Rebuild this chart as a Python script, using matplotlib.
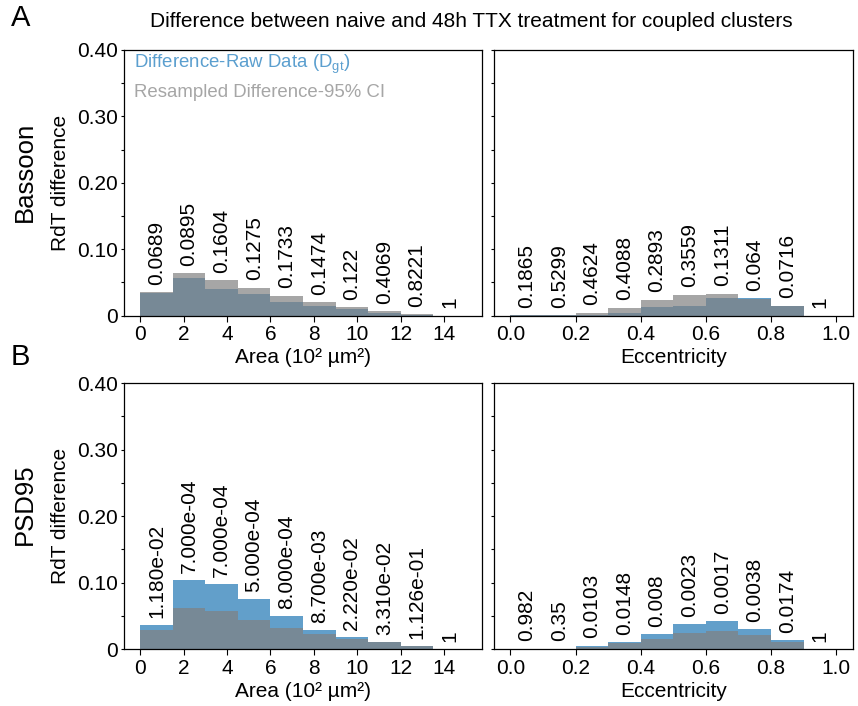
import numpy as np
import matplotlib.pyplot as plt
from matplotlib.patches import Patch

plt.rcParams['font.family'] = ['Liberation Sans', 'DejaVu Sans']
plt.rcParams['mathtext.default'] = 'regular'

# bin edges
area_edges = np.arange(0, 15.01, 1.5)
ecc_edges = np.arange(0, 1.001, 0.1)

# Bassoon - area
bsn_area_raw = [0.034, 0.057, 0.040, 0.033, 0.021, 0.015, 0.010, 0.004, 0.0008, 0.0]
bsn_area_ci = [0.035, 0.064, 0.053, 0.042, 0.030, 0.020, 0.013, 0.0068, 0.0025, 0.0]
bsn_area_p = ["0.0689", "0.0895", "0.1604", "0.1275", "0.1733", "0.1474", "0.122",
              "0.4069", "0.8221", "1"]

# Bassoon - eccentricity
bsn_ecc_raw = [0.0005, 0.0005, 0.001, 0.0045, 0.0135, 0.015, 0.026, 0.0266, 0.015, 0.0]
bsn_ecc_ci = [0.001, 0.001, 0.0045, 0.012, 0.024, 0.0316, 0.033, 0.025, 0.014, 0.0]
bsn_ecc_p = ["0.1865", "0.5299", "0.4624", "0.4088", "0.2893", "0.3559", "0.1311",
             "0.064", "0.0716", "1"]

# PSD95 - area
psd_area_raw = [0.0357, 0.104, 0.098, 0.0754, 0.0492, 0.0281, 0.0175, 0.0100, 0.0040, 0.0]
psd_area_ci = [0.0286, 0.0618, 0.0568, 0.0437, 0.0317, 0.0226, 0.0148, 0.0102, 0.0042, 0.0]
psd_area_p = ["1.180e-02", "7.000e-04", "7.000e-04", "5.000e-04", "8.000e-04", "8.700e-03",
              "2.220e-02", "3.310e-02", "1.126e-01", "1"]

# PSD95 - eccentricity
psd_ecc_raw = [0.0005, 0.0005, 0.005, 0.010, 0.022, 0.037, 0.0416, 0.0296, 0.013, 0.0]
psd_ecc_ci = [0.0004, 0.0004, 0.0035, 0.0085, 0.0155, 0.0236, 0.0266, 0.0206, 0.010, 0.0]
psd_ecc_p = ["0.982", "0.35", "0.0103", "0.0148", "0.008", "0.0023", "0.0017", "0.0038",
             "0.0174", "1"]

raw_color = "#1f77b4"
ci_color = "grey"
fs = 15


def draw_panel(ax, edges, raw, ci, pvals, xlabel, xticks, xticklabels, show_y):
    widths = np.diff(edges)
    ax.bar(edges[:-1], raw, width=widths, align="edge", color=raw_color, alpha=0.7, linewidth=0)
    ax.bar(edges[:-1], ci, width=widths, align="edge", color=ci_color, alpha=0.7, linewidth=0)
    centers = edges[:-1] + widths / 2
    for c, r, g, p in zip(centers, raw, ci, pvals):
        ax.text(c, max(r, g) + 0.011, p, rotation=90, ha="center", va="bottom", fontsize=fs)
    ax.set_ylim(0, 0.40)
    ax.set_yticks(np.arange(0, 0.401, 0.05))
    if show_y:
        ax.set_yticklabels(["0", "", "0.10", "", "0.20", "", "0.30", "", "0.40"])
        ax.set_ylabel("RdT difference", fontsize=fs, labelpad=5)
    else:
        ax.set_yticklabels([])
    ax.set_xticks(xticks)
    ax.set_xticklabels(xticklabels)
    ax.set_xlabel(xlabel, fontsize=fs, labelpad=3)
    ax.tick_params(axis="y", length=2.5, width=0.8, labelsize=fs, pad=2)
    ax.tick_params(axis="x", length=4, width=0.8, labelsize=fs, pad=3)
    for s in ax.spines.values():
        s.set_linewidth(0.9)


fig = plt.figure(figsize=(8.58, 7.06), dpi=100)
ax_a1 = fig.add_axes([0.1445, 0.5531, 0.4172, 0.3761])
ax_a2 = fig.add_axes([0.5758, 0.5531, 0.4178, 0.3761])
ax_b1 = fig.add_axes([0.1445, 0.0807, 0.4172, 0.3768])
ax_b2 = fig.add_axes([0.5758, 0.0807, 0.4178, 0.3768])

area_ticks = list(range(0, 15, 2))
ecc_ticks = [0.0, 0.2, 0.4, 0.6, 0.8, 1.0]
area_label = "Area (10² µm²)"

draw_panel(ax_a1, area_edges, bsn_area_raw, bsn_area_ci, bsn_area_p, area_label,
           area_ticks, [str(t) for t in area_ticks], True)
draw_panel(ax_a2, ecc_edges, bsn_ecc_raw, bsn_ecc_ci, bsn_ecc_p, "Eccentricity",
           ecc_ticks, ["%.1f" % t for t in ecc_ticks], False)
draw_panel(ax_b1, area_edges, psd_area_raw, psd_area_ci, psd_area_p, area_label,
           area_ticks, [str(t) for t in area_ticks], True)
draw_panel(ax_b2, ecc_edges, psd_ecc_raw, psd_ecc_ci, psd_ecc_p, "Eccentricity",
           ecc_ticks, ["%.1f" % t for t in ecc_ticks], False)

# legend, coloured text only (handles hidden)
handles = [Patch(facecolor="none", edgecolor="none"), Patch(facecolor="none", edgecolor="none")]
ax_a1.legend(handles, ["Difference-Raw Data (D$_{gt}$)", "Resampled Difference-95% CI"],
             loc="upper left", bbox_to_anchor=(0.028, 0.99), frameon=False,
             handlelength=0, handletextpad=0, borderpad=0, borderaxespad=0,
             labelspacing=0.45, fontsize=13.4, labelcolor=["#5b9fcf", "#a6a6a6"])

fig.text(471 / 858, 1 - 21.5 / 706, "Difference between naive and 48h TTX treatment for coupled clusters",
         ha="center", va="center", fontsize=15)
fig.text(21 / 858, 1 - 18.5 / 706, "A", ha="center", va="center", fontsize=21)
fig.text(20 / 858, 1 - 357 / 706, "B", ha="center", va="center", fontsize=21)
fig.text(25 / 858, 1 - 172 / 706, "Bassoon", ha="center", va="center", rotation=90, fontsize=18.5)
fig.text(25 / 858, 1 - 504 / 706, "PSD95", ha="center", va="center", rotation=90, fontsize=18.5)

fig.savefig("out.png", dpi=100)
